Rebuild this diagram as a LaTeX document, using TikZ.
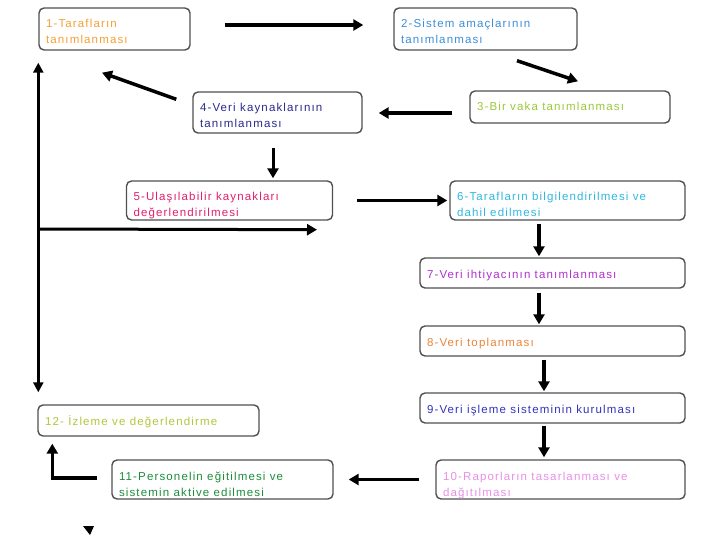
\documentclass[tikz,border=0pt]{standalone}
\usepackage{fontspec}
\setmainfont{Liberation Sans}[LetterSpace=10]
\usetikzlibrary{arrows.meta}
\definecolor{bordergray}{HTML}{505050}
\definecolor{cA}{HTML}{F5A033}
\definecolor{cB}{HTML}{3C8FD8}
\definecolor{cC}{HTML}{9CC83C}
\definecolor{cD}{HTML}{2A2A90}
\definecolor{cE}{HTML}{E0206E}
\definecolor{cF}{HTML}{30B8E0}
\definecolor{cG}{HTML}{B030D0}
\definecolor{cH}{HTML}{E8853A}
\definecolor{cI}{HTML}{3333BB}
\definecolor{cJ}{HTML}{E890E8}
\definecolor{cK}{HTML}{1E8C3C}
\definecolor{cL}{HTML}{B5C63A}
\newcommand{\bt}[3]{\parbox[t][#2][t]{#1}{\rule{0pt}{20pt}#3}}
\tikzset{
  box/.style={draw=bordergray, line width=1.4pt, rounded corners=5pt, inner xsep=7pt, inner ysep=0pt, fill=white, font=\fontsize{11.5}{16}\selectfont},
  arr/.style={line width=3.5pt, -{Triangle[length=10pt,width=11pt]}},
}
\begin{document}
\begin{tikzpicture}[x=1pt,y=-1pt]
\useasboundingbox[fill=white] (0,0) rectangle (720,540);
\node[box, text=cA] (b1) at (114.5,29) {\bt{137pt}{42pt}{1-Tarafların\\tanımlanması}};
\node[box, text=cB] (b2) at (485.5,29) {\bt{169pt}{42pt}{2-Sistem amaçlarının\\tanımlanması}};
\node[box, text=cC] (b3) at (570,107) {\bt{186pt}{32pt}{3-Bir vaka tanımlanması}};
\node[box, text=cD] (b4) at (277.5,112.5) {\bt{155pt}{41pt}{4-Veri kaynaklarının\\tanımlanması}};
\node[box, text=cE] (b5) at (229.5,200.5) {\bt{192pt}{39pt}{5-Ulaşılabilir kaynakları\\değerlendirilmesi}};
\node[box, text=cF] (b6) at (567.5,200.5) {\bt{221pt}{39pt}{6-Tarafların bilgilendirilmesi ve\\dahil edilmesi}};
\node[box, text=cG] (b7) at (552.5,273) {\bt{251pt}{30pt}{7-Veri ihtiyacının tanımlanması}};
\node[box, text=cH] (b8) at (552.5,341) {\bt{251pt}{30pt}{8-Veri toplanması}};
\node[box, text=cI] (b9) at (552.5,408) {\bt{251pt}{30pt}{9-Veri işleme sisteminin kurulması}};
\node[box, text=cJ] (b10) at (560.5,479.5) {\bt{235pt}{39pt}{10-Raporların tasarlanması ve\\dağıtılması}};
\node[box, text=cK] (b11) at (222.5,479.5) {\bt{207pt}{39pt}{11-Personelin eğitilmesi ve\\sistemin aktive edilmesi}};
\node[box, text=cL] (b12) at (148.5,420.5) {\bt{207pt}{31pt}{12- İzleme ve değerlendirme}};
% connectors
\draw[arr, line width=4.5pt, shorten <=34pt, shorten >=30pt] ([yshift=4pt]b1.east) -- ([yshift=4pt]b2.west);
\draw[arr] ([xshift=31.5pt,yshift=-10pt]b2.south) -- ([xshift=8pt,yshift=9pt]b3.north);
\draw[arr, line width=4.5pt, shorten <=17pt, shorten >=16pt] ([yshift=-6pt]b3.west) -- ([yshift=-0.5pt]b4.east);
\draw[arr] ([xshift=-16pt,yshift=-8pt]b4.north west) -- ([xshift=-12.5pt,yshift=-22pt]b1.south);
\draw[arr, line width=3pt] ([xshift=-4.5pt,yshift=-14pt]b4.south) -- ([xshift=43.5pt,yshift=2pt]b5.north);
\draw[arr, shorten <=24pt, shorten >=2pt] (b5.east) -- (b6.west);
\draw[arr] ([xshift=-28.5pt,yshift=-3pt]b6.south) -- ([xshift=-13.5pt,yshift=1pt]b7.north);
\draw[arr] ([xshift=-13.5pt,yshift=-4pt]b7.south) -- ([xshift=-13.5pt,yshift=1pt]b8.north);
\draw[arr] ([xshift=-8.5pt,yshift=-3pt]b8.south) -- ([xshift=-8.5pt,yshift=1pt]b9.north);
\draw[arr] ([xshift=-8.5pt,yshift=-2pt]b9.south) -- ([xshift=-16.5pt,yshift=2pt]b10.north);
\draw[arr, shorten <=16pt, shorten >=15pt] (b10.west) -- (b11.east);
\draw[arr] ([xshift=-14pt,yshift=1.5pt]b11.west) -| ([xshift=15pt,yshift=-7pt]b12.south west);
\draw[line width=3pt, {Triangle[length=10pt,width=10pt]}-{Triangle[length=10pt,width=10pt]}] ([yshift=-12pt]b1.south west) -- ([xshift=1pt,yshift=12pt]b12.north west);
\coordinate (j) at (39,229);
\draw[arr, line width=3pt] (j) -- ([xshift=87.5pt,yshift=-9pt]b5.south);
\fill (83,526) -- (94,526) -- (90,535) -- cycle;
\end{tikzpicture}
\end{document}
